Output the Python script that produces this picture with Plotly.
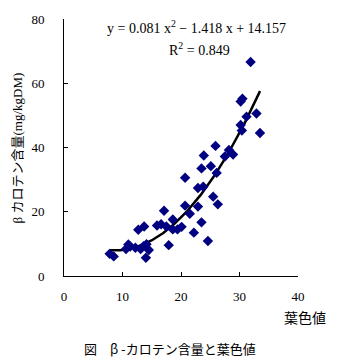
import numpy as np
import plotly.graph_objects as go

# Leaf colour value (SPAD-type reading) and beta-carotene content
leaf_color = [7.8, 8.5, 10.6, 11.0, 11.3, 12.2, 13.1, 13.6, 14.1, 14.5, 14.0,
              12.7, 13.7, 15.9, 16.6, 17.1, 17.5, 17.9, 18.6, 18.6, 19.4, 20.1,
              20.7, 20.7, 21.5, 22.2, 22.9, 22.9, 23.5, 23.5, 23.8, 23.9, 24.6,
              25.1, 25.5, 25.9, 26.1, 26.3, 27.5, 28.2, 28.9, 30.2, 30.4, 30.2,
              30.5, 31.2, 32.9, 33.5, 31.9]
carotene = [6.9, 6.1, 8.4, 9.8, 9.2, 8.8, 8.4, 9.3, 9.9, 8.1, 5.7,
            14.4, 15.4, 15.7, 16.1, 20.3, 15.4, 9.6, 17.6, 14.5, 14.5, 15.3,
            21.9, 30.6, 19.4, 13.5, 21.6, 27.4, 16.7, 33.5, 27.8, 37.5, 10.9,
            34.2, 24.7, 40.5, 32.1, 22.3, 37.2, 39.2, 37.8, 47.0, 45.3, 54.3,
            55.2, 49.6, 50.6, 44.5, 66.6]

# Quadratic fit coefficients (a x^2 + b x + c) and R^2
fit_coef = [0.081, -1.418, 14.157]
r_squared = 0.849

x_ticks = [0, 10, 20, 30, 40]
y_ticks = [0, 20, 40, 60, 80]

serif = "Liberation Serif, Noto Sans CJK JP, serif"
jp = "Noto Sans CJK JP, sans-serif"

xf = np.linspace(min(leaf_color), max(leaf_color), 200)
yf = np.polyval(fit_coef, xf)

fig = go.Figure()
fig.add_trace(go.Scatter(
    x=xf, y=yf, mode="lines",
    line=dict(color="black", width=2.5), hoverinfo="skip"))
fig.add_trace(go.Scatter(
    x=leaf_color, y=carotene, mode="markers",
    marker=dict(symbol="diamond", size=8, color="#000080",
                line=dict(width=0))))

axis_common = dict(
    showgrid=False, zeroline=False, showline=True, linecolor="black",
    linewidth=1, ticks="inside", ticklen=4, tickcolor="black",
    tickfont=dict(family=serif, size=13, color="black"))

fig.update_xaxes(range=[0, 40], tickvals=x_ticks, ticklabelstandoff=8,
                 **axis_common)
fig.update_yaxes(range=[0, 80], tickvals=y_ticks, ticklabelstandoff=16,
                 **axis_common)

eq = (f"y = {fit_coef[0]:.3f} x<sup>2</sup> \u2212 {abs(fit_coef[1]):.3f} x"
      f" + {fit_coef[2]:.3f}")
fig.add_annotation(x=22.7, y=77.5, xref="x", yref="y", text=eq,
                   xanchor="center", yanchor="middle",
                   showarrow=False, font=dict(family=serif, size=14, color="black"))
fig.add_annotation(x=23.1, y=70.8, xref="x", yref="y",
                   text=f"R<sup>2</sup> = {r_squared:.3f}",
                   xanchor="center", yanchor="middle",
                   showarrow=False, font=dict(family=serif, size=14, color="black"))

fig.add_annotation(x=-0.197, y=0.5, xref="paper", yref="paper",
                   text="\u03b2 カロテン含量(mg/kgDM)", textangle=-90,
                   xanchor="center", yanchor="middle",
                   showarrow=False, font=dict(family=serif, size=13, color="black"))
fig.add_annotation(x=1.03, y=-0.161, xref="paper", yref="paper",
                   text="葉色値", showarrow=False,
                   xanchor="center", yanchor="middle",
                   font=dict(family=jp, size=14, color="black"))
fig.add_annotation(x=0.453, y=-0.283, xref="paper", yref="paper",
                   text="図　\u03b2 -カロテン含量と葉色値", showarrow=False,
                   xanchor="center", yanchor="middle",
                   font=dict(family=jp, size=13, color="black"))

fig.update_layout(
    width=337, height=363,
    margin=dict(l=64, r=39, t=15, b=87),
    paper_bgcolor="white", plot_bgcolor="white",
    showlegend=False)

fig.write_html("out.html")
